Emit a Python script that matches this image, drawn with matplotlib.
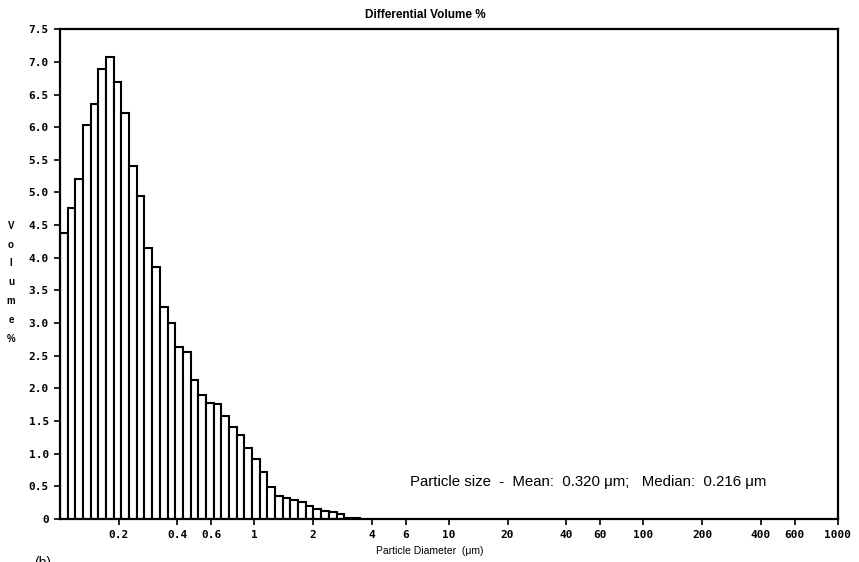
import matplotlib
matplotlib.use('Agg')
import matplotlib.pyplot as plt
from matplotlib.ticker import NullLocator

# channel edges (um) and differential volume % per channel
edges = [0.1, 0.1095, 0.1200, 0.1314, 0.1439, 0.1576, 0.1726, 0.1890, 0.2070,
         0.2267, 0.2483, 0.2720, 0.2979, 0.3262, 0.3573, 0.3913, 0.4285, 0.4694,
         0.5140, 0.5630, 0.6166, 0.6753, 0.7396, 0.8100, 0.8872, 0.9716, 1.064,
         1.165, 1.276, 1.398, 1.531, 1.677, 1.837, 2.011, 2.203, 2.413, 2.642,
         2.894, 3.170, 3.471]
volume = [4.38, 4.77, 5.21, 6.03, 6.35, 6.89, 7.07, 6.69, 6.21, 5.40,
          4.95, 4.15, 3.86, 3.25, 3.00, 2.64, 2.55, 2.13, 1.90, 1.78,
          1.76, 1.57, 1.41, 1.29, 1.09, 0.92, 0.72, 0.49, 0.35, 0.32,
          0.29, 0.26, 0.20, 0.15, 0.12, 0.10, 0.07, 0.02, 0.01]

xticks = [0.2, 0.4, 0.6, 1, 2, 4, 6, 10, 20, 40, 60, 100, 200, 400, 600, 1000]
xtick_labels = ['0.2', '0.4', '0.6', '1', '2', '4', '6', '10', '20', '40', '60',
                '100', '200', '400', '600', '1000']
yticks = [0, 0.5, 1.0, 1.5, 2.0, 2.5, 3.0, 3.5, 4.0, 4.5, 5.0, 5.5, 6.0, 6.5, 7.0, 7.5]
ytick_labels = ['0'] + ['%.1f' % v for v in yticks[1:]]

fig = plt.figure(figsize=(8.59, 5.62), dpi=100)
ax = fig.add_axes([0.0698, 0.0765, 0.9057, 0.8715])

lefts = edges[:-1]
widths = [edges[i + 1] - edges[i] for i in range(len(volume))]
ax.bar(lefts, volume, width=widths, align='edge', color='white',
       edgecolor='black', linewidth=1.5)

ax.set_xscale('log')
ax.set_xlim(0.1, 1000)
ax.set_ylim(0, 7.5)
ax.set_xticks(xticks)
ax.set_xticklabels(xtick_labels)
ax.xaxis.set_minor_locator(NullLocator())
ax.set_yticks(yticks)
ax.set_yticklabels(ytick_labels)
ax.tick_params(direction='out', length=4, width=1.2, labelsize=8, pad=4)
for lab in ax.get_xticklabels() + ax.get_yticklabels():
    lab.set_family('DejaVu Sans Mono')
    lab.set_fontweight('bold')
for s in ax.spines.values():
    s.set_linewidth(1.6)

fig.text(0.4948, 0.973, 'Differential Volume %', fontsize=8.5, fontweight='bold',
         family='Liberation Sans', ha='center', va='center')
fig.text(0.5006, 0.0196, 'Particle Diameter  (\u03bcm)', fontsize=7.5,
         family='Liberation Sans', ha='center', va='center')
fig.text(0.0128, 0.498, '\n'.join('Volume%'), fontsize=7, fontweight='bold',
         family='Liberation Sans', ha='center', va='center', linespacing=2.1)

fig.text(0.477, 0.143,
         'Particle size  -  Mean:  0.320 \u03bcm;   Median:  0.216 \u03bcm',
         fontsize=10.8, family='Liberation Sans', ha='left', va='center')
fig.text(0.04, -0.014, '(b)', fontsize=10, family='Liberation Sans',
         ha='left', va='bottom')

fig.savefig('out.png', dpi=100)
